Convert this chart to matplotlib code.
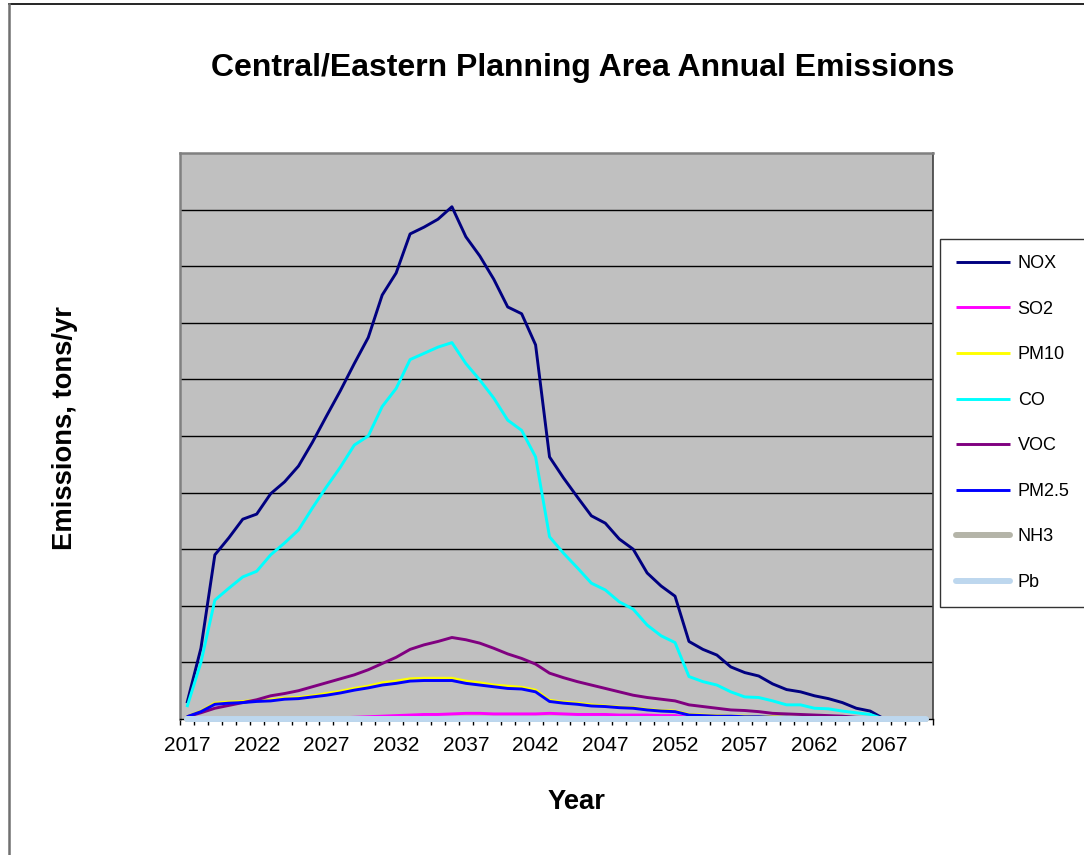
import matplotlib
matplotlib.use("Agg")
import matplotlib.pyplot as plt
from matplotlib.lines import Line2D
from matplotlib.ticker import FixedLocator, NullFormatter

plt.rcParams['font.family'] = ['Liberation Sans', 'DejaVu Sans']

years = list(range(2017, 2071))
tick_years = [2017, 2022, 2027, 2032, 2037, 2042, 2047, 2052, 2057, 2062, 2067]

# annual emissions, one value per year 2017-2070
nox = [0.28, 1.25, 2.90, 3.20, 3.53, 3.62, 3.98, 4.19, 4.47, 4.89,
       5.35, 5.80, 6.28, 6.74, 7.49, 7.88, 8.57, 8.69, 8.83, 9.05,
       8.52, 8.18, 7.77, 7.28, 7.16, 6.61, 4.63, 4.26, 3.92, 3.59,
       3.46, 3.18, 3.00, 2.58, 2.35, 2.17, 1.37, 1.23, 1.13, 0.92,
       0.82, 0.76, 0.62, 0.52, 0.48, 0.41, 0.36, 0.29, 0.19, 0.14,
       0.00, 0.00, 0.00, 0.00]
so2 = [0.00, 0.00, 0.00, 0.00, 0.00, 0.00, 0.01, 0.01, 0.01, 0.01,
       0.02, 0.02, 0.03, 0.04, 0.05, 0.06, 0.07, 0.08, 0.08, 0.09,
       0.10, 0.10, 0.09, 0.09, 0.09, 0.09, 0.10, 0.09, 0.08, 0.08,
       0.08, 0.07, 0.07, 0.07, 0.06, 0.06, 0.03, 0.03, 0.02, 0.02,
       0.02, 0.01, 0.01, 0.01, 0.01, 0.01, 0.01, 0.00, 0.00, 0.00,
       0.00, 0.00, 0.00, 0.00]
pm10 = [0.04, 0.14, 0.28, 0.30, 0.31, 0.33, 0.34, 0.37, 0.38, 0.41,
        0.45, 0.49, 0.54, 0.58, 0.64, 0.67, 0.71, 0.72, 0.72, 0.72,
        0.67, 0.64, 0.60, 0.58, 0.56, 0.51, 0.33, 0.30, 0.28, 0.25,
        0.23, 0.21, 0.20, 0.17, 0.15, 0.14, 0.08, 0.07, 0.06, 0.05,
        0.05, 0.04, 0.04, 0.03, 0.03, 0.02, 0.02, 0.02, 0.01, 0.01,
        0.00, 0.00, 0.00, 0.00]
co = [0.21, 1.00, 2.10, 2.31, 2.51, 2.61, 2.90, 3.11, 3.34, 3.73,
      4.10, 4.45, 4.84, 5.00, 5.52, 5.84, 6.35, 6.46, 6.57, 6.65,
      6.28, 5.99, 5.67, 5.28, 5.10, 4.63, 3.22, 2.93, 2.67, 2.40,
      2.28, 2.07, 1.94, 1.66, 1.47, 1.35, 0.75, 0.66, 0.60, 0.48,
      0.39, 0.38, 0.32, 0.25, 0.25, 0.19, 0.18, 0.14, 0.11, 0.08,
      0.00, 0.00, 0.00, 0.00]
voc = [0.04, 0.11, 0.19, 0.24, 0.29, 0.34, 0.41, 0.45, 0.50, 0.57,
       0.64, 0.71, 0.78, 0.87, 0.98, 1.09, 1.23, 1.31, 1.37, 1.44,
       1.40, 1.34, 1.25, 1.15, 1.07, 0.97, 0.81, 0.73, 0.66, 0.60,
       0.54, 0.48, 0.42, 0.38, 0.35, 0.32, 0.25, 0.22, 0.19, 0.16,
       0.15, 0.13, 0.10, 0.09, 0.08, 0.07, 0.06, 0.05, 0.03, 0.02,
       0.00, 0.00, 0.00, 0.00]
pm25 = [0.04, 0.13, 0.26, 0.28, 0.29, 0.31, 0.32, 0.35, 0.36, 0.39,
        0.42, 0.46, 0.51, 0.55, 0.60, 0.63, 0.67, 0.68, 0.68, 0.68,
        0.63, 0.60, 0.57, 0.54, 0.53, 0.48, 0.31, 0.28, 0.26, 0.23,
        0.22, 0.20, 0.19, 0.16, 0.14, 0.13, 0.07, 0.06, 0.05, 0.05,
        0.04, 0.04, 0.03, 0.03, 0.02, 0.02, 0.02, 0.01, 0.01, 0.01,
        0.00, 0.00, 0.00, 0.00]
nh3 = [0.00, 0.00, 0.00, 0.00, 0.00, 0.00, 0.00, 0.00, 0.00, 0.00,
       0.00, 0.00, 0.00, 0.00, 0.00, 0.00, 0.00, 0.00, 0.00, 0.00,
       0.00, 0.00, 0.00, 0.00, 0.00, 0.00, 0.00, 0.00, 0.00, 0.00,
       0.00, 0.00, 0.00, 0.00, 0.00, 0.00, 0.00, 0.00, 0.00, 0.00,
       0.00, 0.00, 0.00, 0.00, 0.00, 0.00, 0.00, 0.00, 0.00, 0.00,
       0.00, 0.00, 0.00, 0.00]
pb = [0.00, 0.00, 0.00, 0.00, 0.00, 0.00, 0.00, 0.00, 0.00, 0.00,
      0.00, 0.00, 0.00, 0.00, 0.00, 0.00, 0.00, 0.00, 0.00, 0.00,
      0.00, 0.00, 0.00, 0.00, 0.00, 0.00, 0.00, 0.00, 0.00, 0.00,
      0.00, 0.00, 0.00, 0.00, 0.00, 0.00, 0.00, 0.00, 0.00, 0.00,
      0.00, 0.00, 0.00, 0.00, 0.00, 0.00, 0.00, 0.00, 0.00, 0.00,
      0.00, 0.00, 0.00, 0.00]

series = [
    ("NOX", nox, "#000080", 2.1),
    ("SO2", so2, "#FF00FF", 2.1),
    ("PM10", pm10, "#FFFF00", 2.1),
    ("CO", co, "#00FFFF", 2.1),
    ("VOC", voc, "#800080", 2.1),
    ("PM2.5", pm25, "#0000FF", 2.1),
    ("NH3", nh3, "#B4B4A8", 4.3),
    ("Pb", pb, "#BDD7EE", 4.3),
]

fig = plt.figure(figsize=(10.84, 8.55), dpi=100)
ax = fig.add_axes([180 / 1084, 136 / 855, 753 / 1084, 566 / 855])
ax.set_facecolor("#C0C0C0")

# category axis: one slot per year, point in the middle of each slot
xpos = list(range(len(years)))
handles = []
for name, vals, color, lw in series:
    ln, = ax.plot(xpos, vals, color=color, lw=lw, label=name, clip_on=False,
                  solid_capstyle="round" if lw > 3 else "butt", zorder=3)
    handles.append(ln)

ax.set_xlim(-0.5, len(years) - 0.5)
ax.set_ylim(0, 10)
ax.set_yticks(range(1, 10))
ax.yaxis.grid(True, color="black", lw=1.0)
ax.set_axisbelow(True)
ax.tick_params(axis="y", length=0, labelleft=False)

ax.set_xticks([years.index(y) for y in tick_years])
ax.set_xticklabels([str(y) for y in tick_years], fontsize=15)
ax.xaxis.set_minor_locator(FixedLocator([i - 0.5 for i in range(len(years) + 1)]))
ax.xaxis.set_minor_formatter(NullFormatter())
ax.tick_params(axis="x", which="major", length=0, pad=12)
ax.tick_params(axis="x", which="minor", length=4, width=1, color="black", direction="out")

for side in ("left", "top"):
    ax.spines[side].set_color("#808080")
    ax.spines[side].set_linewidth(1.8)
ax.spines["right"].set_color("#404040")
ax.spines["right"].set_linewidth(1.2)
ax.spines["bottom"].set_color("black")
ax.spines["bottom"].set_linewidth(1.0)

fig.text(583 / 1084, (855 - 76) / 855, "Central/Eastern Planning Area Annual Emissions",
         ha="center", va="baseline", fontsize=23, fontweight="bold")
fig.text(65 / 1084, (855 - 428) / 855, "Emissions, tons/yr", rotation=90,
         ha="center", va="center", fontsize=19.7, fontweight="bold")
fig.text(577 / 1084, (855 - 809) / 855, "Year",
         ha="center", va="baseline", fontsize=19.7, fontweight="bold")

leg = fig.legend(handles=handles, loc="upper left",
                 bbox_to_anchor=(940 / 1084, (855 - 239) / 855),
                 borderaxespad=0, fontsize=13, frameon=True, fancybox=False,
                 handlelength=2.95, handletextpad=0.45, labelspacing=1.58,
                 borderpad=0.9)
leg.get_frame().set_edgecolor("black")
leg.get_frame().set_linewidth(1.0)

# chart area border (only top and left edges fall inside the image)
fig.add_artist(Line2D([8.5 / 1084, 1.0], [1 - 4.5 / 855, 1 - 4.5 / 855],
                      transform=fig.transFigure, color="black", lw=1.2))
fig.add_artist(Line2D([8.5 / 1084, 8.5 / 1084], [0.0, 1 - 4.5 / 855],
                      transform=fig.transFigure, color="#707070", lw=1.8))

fig.savefig("out.png", dpi=100)
